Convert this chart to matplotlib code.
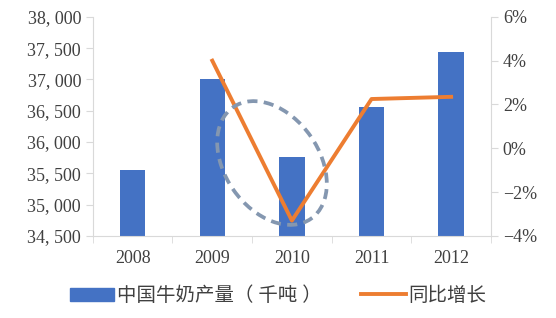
import matplotlib
matplotlib.use("Agg")
import matplotlib.pyplot as plt
from matplotlib.patches import Ellipse, Patch
from matplotlib.lines import Line2D
from matplotlib.transforms import IdentityTransform

plt.rcParams['font.family'] = ['Liberation Serif', 'Noto Sans CJK SC']
plt.rcParams['axes.unicode_minus'] = True

years = ['2008', '2009', '2010', '2011', '2012']
milk = [35550, 37000, 35760, 36560, 37440]      # 千吨
growth = [None, 4.0, -3.3, 2.25, 2.35]          # %

left_ticks = [34500, 35000, 35500, 36000, 36500, 37000, 37500, 38000]
right_ticks = [-4, -2, 0, 2, 4, 6]

spine_c = '#D9D9D9'
txt_c = '#404040'

fig = plt.figure(figsize=(5.56, 3.18), dpi=100)
ax = fig.add_axes([0.167, 0.258, 0.716, 0.689])
x = list(range(len(years)))
ax.bar(x, [m - 34500 for m in milk], bottom=34500, width=0.32, color='#4472C4')
ax.set_ylim(34500, 38000)
ax.set_xlim(-0.5, len(years) - 0.5)
ax.set_yticks(left_ticks)
ax.set_yticklabels(['{:,}'.format(v).replace(',', ', ') for v in left_ticks])
ax.set_xticks(x)
ax.set_xticklabels(years)
ax.set_xticks([i - 0.5 for i in range(len(years) + 1)], minor=True)
ax.tick_params(axis='x', which='major', length=0, pad=10, labelsize=13, colors=txt_c)
ax.tick_params(axis='x', which='minor', length=5, color=spine_c)
ax.tick_params(axis='y', length=5, color=spine_c, labelsize=13, labelcolor=txt_c)
for s in ['top', 'right']:
    ax.spines[s].set_visible(False)
for s in ['left', 'bottom']:
    ax.spines[s].set_color(spine_c)

ax2 = ax.twinx()
gx = [i for i, g in zip(x, growth) if g is not None]
gy = [g for g in growth if g is not None]
ax2.plot(gx, gy, color='#ED7D31', linewidth=2.8)
ax2.set_ylim(-4, 6)
ax2.set_yticks(right_ticks)
ax2.set_yticklabels(['{}%'.format(v).replace('-', '\u2212') for v in right_ticks])
ax2.tick_params(axis='y', length=5, color=spine_c, labelsize=13, labelcolor=txt_c)
for s in ['top', 'left', 'bottom']:
    ax2.spines[s].set_visible(False)
ax2.spines['right'].set_color(spine_c)

# dashed circle around 2010
ell = Ellipse((272, 155), 136, 94, angle=-55, transform=IdentityTransform(),
              fill=False, edgecolor='#8497B0', linewidth=2.7, linestyle=(0, (2.7, 1.7)))
fig.add_artist(ell)

handles = [Patch(color='#4472C4'), Line2D([], [], color='#ED7D31', linewidth=2.8)]
fig.legend(handles, ['中国牛奶产量（ 千吨 ）', '同比增长'], loc='lower center',
           bbox_to_anchor=(0.5, -0.015), ncol=2, frameon=False, fontsize=14,
           handlelength=2.3, columnspacing=2.0, handletextpad=0.15,
           labelcolor=txt_c)

fig.savefig('out.png', dpi=100)
